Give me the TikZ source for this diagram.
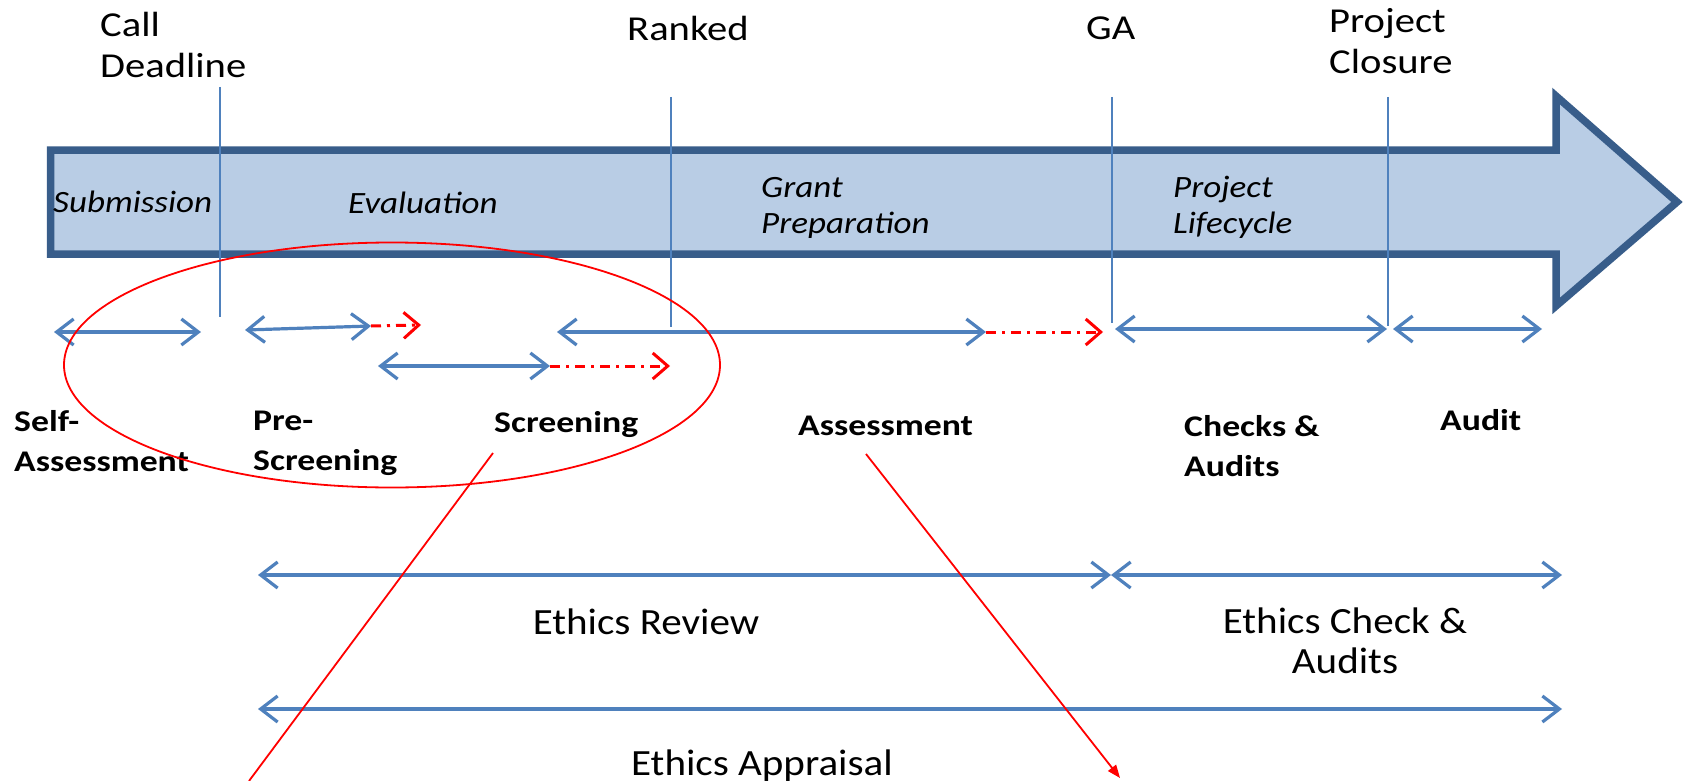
\documentclass[tikz,border=0pt]{standalone}
\usepackage{fontspec}
\setmainfont{Carlito}
\newfontfamily\topfont[FakeStretch=1.16]{Carlito}
\newfontfamily\phasefont[FakeStretch=1.13]{Carlito}
\newfontfamily\stepfont[FakeStretch=1.19]{Carlito}
\newfontfamily\ethicsfont[FakeStretch=1.11]{Carlito}
\usetikzlibrary{arrows.meta}
\definecolor{barblue}{HTML}{4F81BD}
\definecolor{arrowfill}{HTML}{B9CDE5}
\definecolor{arrowline}{HTML}{385D8A}
\definecolor{redline}{HTML}{FF0000}
\tikzset{
  span/.style={draw=barblue, line width=3.2pt,
    {Straight Barb[length=17pt,width=26pt]}-{Straight Barb[length=17pt,width=26pt]}},
  redtail/.style={draw=redline, line width=3pt, dash pattern=on 10pt off 6pt on 3pt off 6pt,
    -{Straight Barb[length=15pt,width=26pt]}},
  marker/.style={draw=barblue, line width=2.5pt},
  toplabel/.style={inner sep=0pt, font=\topfont\fontsize{35}{41}\selectfont, align=left},
  phaselabel/.style={inner sep=0pt, font=\phasefont\fontsize{31}{36}\selectfont\itshape, align=left},
  steplabel/.style={inner sep=0pt, font=\stepfont\fontsize{30}{40}\selectfont\bfseries, align=left},
  ethicslabel/.style={inner sep=0pt, font=\ethicsfont\fontsize{37}{40}\selectfont, align=center},
  callout/.style={draw=redline, line width=1.8pt},
}
\begin{document}
\begin{tikzpicture}[x=1pt,y=-1pt]
\useasboundingbox[fill=white] (0,0) rectangle (1688,781);
% big timeline arrow
\draw[fill=arrowfill, draw=arrowline, line width=7.5pt, miter limit=10]
  (50.7,150) -- (1556,150) -- (1556,96) -- (1677,202) -- (1556,306) -- (1556,254) -- (50.7,254) -- cycle;
% milestone markers
\coordinate (cdT) at (220,87);  \coordinate (cdB) at (220,317);
\coordinate (rkT) at (671,97);  \coordinate (rkB) at (671,327);
\coordinate (gaT) at (1112,97); \coordinate (gaB) at (1112,323);
\coordinate (pcT) at (1388,97); \coordinate (pcB) at (1388,326);
\draw[marker] (cdT) -- (cdB);
\draw[marker] (rkT) -- (rkB);
\draw[marker] (gaT) -- (gaB);
\draw[marker] (pcT) -- (pcB);
% top labels
\node[toplabel, anchor=north west] (calldl) at (100,12) {Call\\Deadline};
\node[toplabel, anchor=base west] (ranked) at (627,41) {Ranked};
\node[toplabel, anchor=base west] (ga) at (1086,40) {GA};
\node[toplabel, anchor=north west] (closure) at (1329,8) {Project\\Closure};
% phase labels
\node[phaselabel, anchor=base west] (subm) at (53,212) {Submission};
\node[phaselabel, anchor=base west] (eval) at (348,213) {Evaluation};
\node[phaselabel, anchor=north west] (grant) at (761,177) {Grant\\Preparation};
\node[phaselabel, anchor=north west] (life) at (1173,176) {Project\\Lifecycle};
% step spans
\coordinate (saL) at (54,332);   \coordinate (saR) at (201,332);
\coordinate (psL) at (245,330);  \coordinate (psR) at (371,326); \coordinate (psX) at (421,325);
\coordinate (scL) at (378,366);  \coordinate (scR) at (550,366); \coordinate (scX) at (670,366);
\coordinate (asL) at (557,332);  \coordinate (asR) at (986,332); \coordinate (asX) at (1103,332);
\coordinate (ckL) at (1115,329); \coordinate (ckR) at (1387,329);
\coordinate (auL) at (1393,329); \coordinate (auR) at (1542,329);
\draw[span] (saL) -- (saR);
\draw[span] (psL) -- (psR);
\draw[redtail] (psR) -- (psX);
\draw[span] (scL) -- (scR);
\draw[redtail] (scR) -- (scX);
\draw[span] (asL) -- (asR);
\draw[redtail] (asR) -- (asX);
\draw[span] (ckL) -- (ckR);
\draw[span] (auL) -- (auR);
% step labels
\node[steplabel, anchor=north west] (selfa) at (14,410) {Self-\\Assessment};
\node[steplabel, anchor=north west] (presc) at (253,411) {Pre-\\Screening};
\node[steplabel, anchor=base west] (scr) at (494,432) {Screening};
\node[steplabel, anchor=base west] (assm) at (798,435) {Assessment};
\node[steplabel, anchor=north west] (checks) at (1184,415) {Checks \&\\Audits};
\node[steplabel, anchor=base west] (audit) at (1440,430) {Audit};
% ethics spans
\coordinate (erL) at (258,575); \coordinate (erR) at (1111,575); \coordinate (ecR) at (1562,575);
\coordinate (eaL) at (258,709); \coordinate (eaR) at (1562,709);
\draw[span] (erL) -- (erR);
\draw[span] (erR) -- (ecR);
\draw[span] (eaL) -- (eaR);
\node[ethicslabel] (erev) at (646,622) {Ethics Review};
\node[ethicslabel] (echk) at (1345,641) {Ethics Check \&\\Audits};
\node[ethicslabel, anchor=base] (eapp) at (762,775) {Ethics Appraisal};
% red callouts
\draw[callout] (392,365) ellipse [x radius=328, y radius=122.5];
\coordinate (c1S) at (493,453); \coordinate (c1E) at (249,781);
\coordinate (c2S) at (866,454); \coordinate (c2E) at (1120,778);
\draw[callout] (c1S) -- (c1E);
\draw[callout, -{Triangle[length=13pt,width=10pt]}] (c2S) -- (c2E);
\end{tikzpicture}
\end{document}
